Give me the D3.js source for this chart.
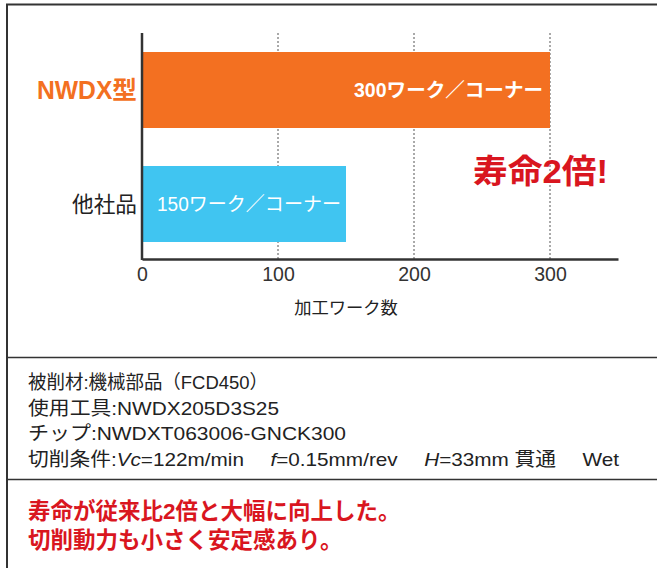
<!DOCTYPE html>
<html><head><meta charset="utf-8">
<script src="https://cdn.jsdelivr.net/npm/d3@7"></script>
<style>
html,body{margin:0;padding:0;background:#fff;}
svg{display:block;}
svg text{font-family:"Liberation Sans","Noto Sans CJK JP",sans-serif;}
</style></head>
<body>
<svg id="c" width="657" height="568"></svg>
<script>
const categories = ["NWDX型", "他社品"];
const values = [300, 150];
const barLabels = ["300ワーク／コーナー", "150ワーク／コーナー"];
const tickValues = [0, 100, 200, 300];
const axisTitle = "加工ワーク数";
const callout = "寿命2倍!";
const notes = ["被削材:機械部品（FCD450）", "使用工具:NWDX205D3S25", "チップ:NWDXT063006-GNCK300"];
const summary = ["寿命が従来比2倍と大幅に向上した。", "切削動力も小さく安定感あり。"];

const FF = "'Liberation Sans','Noto Sans CJK JP',sans-serif";
const svg = d3.select("#c");
const x = d3.scaleLinear().domain([0, 350]).range([142, 618]);
const y = d3.scaleBand().domain(categories).range([33, 261]).paddingInner(1/3).paddingOuter(1/6);
const colors = ["#f37021", "#40c5f1"];
const red = "#d9161f";

// frame
svg.append("line").attr("x1", 6).attr("x2", 657).attr("y1", 4.5).attr("y2", 4.5).attr("stroke", "#333").attr("stroke-width", 2);
svg.append("line").attr("x1", 7).attr("x2", 7).attr("y1", 4).attr("y2", 568).attr("stroke", "#333").attr("stroke-width", 2);
svg.append("line").attr("x1", 7).attr("x2", 657).attr("y1", 357.5).attr("y2", 357.5).attr("stroke", "#333").attr("stroke-width", 1.5);
svg.append("line").attr("x1", 7).attr("x2", 657).attr("y1", 479.5).attr("y2", 479.5).attr("stroke", "#333").attr("stroke-width", 1.5);

// grid
svg.append("g").selectAll("line").data(tickValues.filter(d => d > 0)).join("line")
  .attr("x1", d => x(d)).attr("x2", d => x(d)).attr("y1", 33).attr("y2", 259)
  .attr("stroke", "#555").attr("stroke-width", 1).attr("stroke-dasharray", "2,2");

// bars
svg.append("g").selectAll("rect").data(values).join("rect")
  .attr("x", x(0)).attr("y", (d, i) => y(categories[i]))
  .attr("width", d => x(d) - x(0)).attr("height", y.bandwidth())
  .attr("fill", (d, i) => colors[i]);

// axis
const ax = svg.append("g").attr("transform", "translate(0,259)")
  .call(d3.axisBottom(x).tickValues(tickValues).tickSize(0).tickPadding(8));
ax.attr("font-family", FF);
ax.select(".domain").attr("stroke", "#333").attr("stroke-width", 2.5);
ax.selectAll("text").attr("font-size", 19.5).attr("fill", "#333");
svg.append("line").attr("x1", x(0)).attr("x2", x(0)).attr("y1", 33).attr("y2", 260)
  .attr("stroke", "#333").attr("stroke-width", 2.5);

svg.append("text").attr("x", (x(0) + x(300)) / 2).attr("y", 307.5).attr("dy", "0.36em").attr("text-anchor", "middle")
  .attr("font-size", 17.3).attr("fill", "#222").text(axisTitle);

// category labels
svg.append("g").selectAll("text").data(categories).join("text")
  .attr("x", 137).attr("y", d => y(d) + y.bandwidth() / 2)
  .attr("dy", "0.36em").attr("text-anchor", "end")
  .attr("font-size", (d, i) => i === 0 ? 25 : 22)
  .attr("font-weight", (d, i) => i === 0 ? "bold" : "normal")
  .attr("fill", (d, i) => i === 0 ? colors[0] : "#222")
  .attr("textLength", (d, i) => i === 0 ? 100 : 65)
  .attr("lengthAdjust", "spacingAndGlyphs")
  .text(d => d);

// bar labels
svg.append("g").selectAll("text").data(barLabels).join("text")
  .attr("x", (d, i) => i === 0 ? x(values[0]) - 7 : x(0) + 15)
  .attr("y", (d, i) => y(categories[i]) + y.bandwidth() / 2)
  .attr("dy", "0.36em")
  .attr("text-anchor", (d, i) => i === 0 ? "end" : "start")
  .attr("font-size", 19.5).attr("fill", "#fff")
  .attr("font-weight", (d, i) => i === 0 ? "bold" : "normal")
  .attr("textLength", (d, i) => i === 0 ? 189 : 184)
  .attr("lengthAdjust", "spacingAndGlyphs")
  .text(d => d);

svg.append("text").attr("x", 540.5).attr("y", 171).attr("dy", "0.36em").attr("text-anchor", "middle")
  .attr("font-size", 33).attr("font-weight", "bold").attr("fill", red)
  .attr("textLength", 135).attr("lengthAdjust", "spacingAndGlyphs").text(callout);

// notes
const noteW = [240, 251, 318];
const ng = svg.append("g").attr("font-size", 19).attr("fill", "#222");
ng.selectAll("text.n").data(notes).join("text").attr("class", "n")
  .attr("x", 28).attr("y", (d, i) => 389 + i * 25.7)
  .attr("textLength", (d, i) => noteW[i]).attr("lengthAdjust", "spacingAndGlyphs")
  .text(d => d);
const cond = ng.append("text").attr("x", 28).attr("y", 466)
  .attr("textLength", 591).attr("lengthAdjust", "spacingAndGlyphs");
cond.append("tspan").text("切削条件:");
cond.append("tspan").attr("font-style", "italic").text("Vc");
cond.append("tspan").text("=122m/min\u2003 ");
cond.append("tspan").attr("font-style", "italic").text("f");
cond.append("tspan").text("=0.15mm/rev\u2003 ");
cond.append("tspan").attr("font-style", "italic").text("H");
cond.append("tspan").text("=33mm 貫通\u2003 Wet");

svg.append("g").selectAll("text").data(summary).join("text")
  .attr("x", 28).attr("y", (d, i) => 519 + i * 29)
  .attr("font-size", 22.5).attr("font-weight", "bold").attr("fill", red).text(d => d);
</script>
</body></html>
